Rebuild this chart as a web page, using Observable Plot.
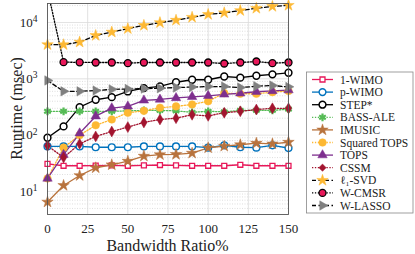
<!DOCTYPE html>
<html><head><meta charset="utf-8">
<script src="https://cdn.jsdelivr.net/npm/d3@7"></script>
<script src="https://cdn.jsdelivr.net/npm/@observablehq/plot@0.6"></script>
<style>body{margin:0;background:#fff} #chart{width:415px;height:254px}</style>
</head><body><div id="chart"></div>
<script>
// ---- data ----
const ratios = [0,10,20,30,40,50,60,70,80,90,100,110,120,130,140,150];
const names = ["1-WIMO","p-WIMO","STEP*","BASS-ALE","IMUSIC","Squared TOPS","TOPS","CSSM","ℓ₁-SVD","W-CMSR","W-LASSO"];
const wimo1  = [31,28.6,28.6,28.8,29,28.6,29,29.5,29,28.6,28.6,28.6,29.8,28.6,28.6,28.6];
const pwimo  = [63,63,63,61,61,61,63,63,63,63,60,66,61,60,66,59];
const step   = [90,143,314,425,473,597,684,733,870,963,963,1100,1050,1135,1200,1283];
const bass   = [265,265,265,265,265,270,275,275,270,255,265,260,275,275,275,290];
const imusic = [6.5,12.8,19.2,26.3,29.8,34.5,42.4,45,45.5,47.9,59.7,63.8,67.6,72,70,75];
const sqtops = [17,60,100,150,190,250,270,307,324,351,400,557,543,543,580,607];
const tops   = [17,45,108,217,302,325,415,430,458,480,500,530,555,590,610,630];
const cssm   = [65,40,70,95,116,139,168,190,200,230,220,250,265,285,300,300];
const l1svd  = [4040,4040,4490,5890,6760,7770,8900,9960,11000,12400,13900,14900,16300,17900,19300,20200];
const wcmsr  = [38000,1980,1960,1950,1950,1900,1950,1950,1950,1950,1950,1870,1950,2030,1900,1950];
const wlasso = [935,600,600,620,650,660,670,680,700,715,730,730,700,740,760,720];
const seriesValues = [wimo1,pwimo,step,bass,imusic,sqtops,tops,cssm,l1svd,wcmsr,wlasso];
const xTicks = [0,25,50,75,100,125,150];
const yMajor = [10,100,1000,10000];
const yMinor = [5,6,7,8,9,20,30,40,50,60,70,80,90,200,300,400,500,600,700,800,900,2000,3000,4000,5000,6000,7000,8000,9000,20000];
const yDomain = [3.9, 21760];

// ---- styles ----
const styles = [
  {line:"#E8185A", dash:null, symbol:"square", fill:"#fff", stroke:"#E8185A", sw:1.3, r:2.8},
  {line:"#0072BD", dash:null, symbol:"circle", fill:"#fff", stroke:"#0072BD", sw:1.4, r:3.4},
  {line:"#000", dash:null, symbol:"circle", fill:"#fff", stroke:"#000", sw:1.5, r:3.4},
  {line:"#55BB55", dash:"1.3,1.6", symbol:"asterisk", fill:"none", stroke:"#55BB55", sw:2.2, r:3.6},
  {line:"#B8733D", dash:null, symbol:"star", fill:"#B8733D", stroke:"#B8733D", sw:0.5, r:3.6},
  {line:"#FDB833", dash:"1.3,1.6", symbol:"circle", fill:"#FDB833", stroke:"#FDB833", sw:0.5, r:3.8},
  {line:"#7E2F8E", dash:null, symbol:"triangle", fill:"#7E2F8E", stroke:"#7E2F8E", sw:0.5, r:3.5},
  {line:"#A2142F", dash:"1.3,1.6", symbol:"diamond", fill:"#A2142F", stroke:"#A2142F", sw:0.5, r:3.3},
  {line:"#000", dash:"4,2.5", symbol:"star", fill:"#FDB833", stroke:"#FDB833", sw:0.5, r:3.6},
  {line:"#000", dash:"1.3,1.6", symbol:"circle", fill:"#E8185A", stroke:"#000", sw:1.3, r:3.5},
  {line:"#000", dash:"4,2.5", symbol:"triangle", fill:"#808080", stroke:"#808080", sw:0.5, r:3.5, rotate:90}
];

const table = [];
names.forEach((n,i)=> seriesValues[i].forEach((v,j)=> table.push({name:n, x:ratios[j], y:v})));

const marks = [
  Plot.ruleY(yMinor, {stroke:"#c8c8c8", strokeWidth:0.6, strokeDasharray:"1,1.5"}),
  Plot.ruleY(yMajor, {stroke:"#dadada", strokeWidth:0.8}),
  Plot.ruleX(xTicks, {stroke:"#dadada", strokeWidth:0.8}),
];
names.forEach((n,i)=>{
  const s = styles[i];
  const d = table.filter(t=>t.name===n);
  marks.push(Plot.line(d, {x:"x", y:"y", stroke:s.line, strokeWidth:1.3, strokeDasharray:s.dash||undefined, clip:true}));
});
names.forEach((n,i)=>{
  const s = styles[i];
  const d = table.filter(t=>t.name===n && t.y<=yDomain[1]);
  marks.push(Plot.dot(d, {x:"x", y:"y", symbol:s.symbol, r:s.r, fill:s.fill, stroke:s.stroke, strokeWidth:s.sw, rotate:s.rotate||0}));
});
marks.push(Plot.frame({stroke:"#555", strokeWidth:0.9}));
marks.push(Plot.axisX({ticks:xTicks, tickSize:0, tickPadding:9, fontSize:13, label:null}));
marks.push(Plot.axisY({ticks:yMajor, tickSize:0, tickPadding:10, fontSize:13, label:null,
  tickFormat: d => "10^" + Math.round(Math.log10(d))}));

const svg = Plot.plot({
  width:415, height:254,
  marginLeft:47, marginRight:127, marginTop:3, marginBottom:40,
  style:{fontFamily:"'Liberation Serif', serif", fontSize:"13px", color:"#222", background:"#fff"},
  x:{domain:[0,150]},
  y:{type:"log", domain:yDomain},
  marks
});
document.getElementById("chart").appendChild(svg);

const S = d3.select(svg);
// superscript exponents on y tick labels
S.selectAll('g[aria-label="y-axis tick label"] text').each(function(){
  const t = d3.select(this);
  const txt = this.textContent;
  const m = txt.match(/10\^(\d)/);
  if(!m) return;
  t.text("10");
  t.append("tspan").attr("dy","-0.5em").attr("font-size","9.5px").text(m[1]);
});
// axis labels
S.append("text").attr("transform","translate(16,108.5) rotate(-90)").attr("text-anchor","middle")
  .attr("dy","0.35em").attr("font-size","16px").attr("fill","#222").text("Runtime (msec)");
S.append("text").attr("x",167.5).attr("y",245).attr("text-anchor","middle")
  .attr("dy","0.35em").attr("font-size","16px").attr("fill","#222").text("Bandwidth Ratio%");

// legend
const lg = S.append("g").attr("font-size","11.5px").attr("fill","#222").attr("text-anchor","start");
const legTop = 72, legFirst = 79.5, legGap = 12.6;
lg.append("rect").attr("x",306.5).attr("y",legTop).attr("width",106.5).attr("height",141)
  .attr("fill","#fff").attr("stroke","#888").attr("stroke-width",0.8);
const symMap = {square:d3.symbolSquare, circle:d3.symbolCircle, asterisk:d3.symbolAsterisk, star:d3.symbolStar,
  triangle:d3.symbolTriangle, diamond:d3.symbolDiamond2};
names.forEach((n,i)=>{
  const s = styles[i];
  const y = legFirst + legGap*i;
  lg.append("line").attr("x1",312).attr("x2",333).attr("y1",y).attr("y2",y)
    .attr("stroke",s.line).attr("stroke-width",1.3).attr("stroke-dasharray",s.dash||null);
  lg.append("path").attr("d", d3.symbol(symMap[s.symbol], s.r*s.r*Math.PI)())
    .attr("transform",`translate(322.5,${y}) rotate(${s.rotate||0})`)
    .attr("fill",s.fill).attr("stroke",s.stroke).attr("stroke-width",s.sw);
  lg.append("text").attr("x",340).attr("y",y).attr("dy","0.35em").attr("text-anchor","start").text(n);
});
</script></body></html>
